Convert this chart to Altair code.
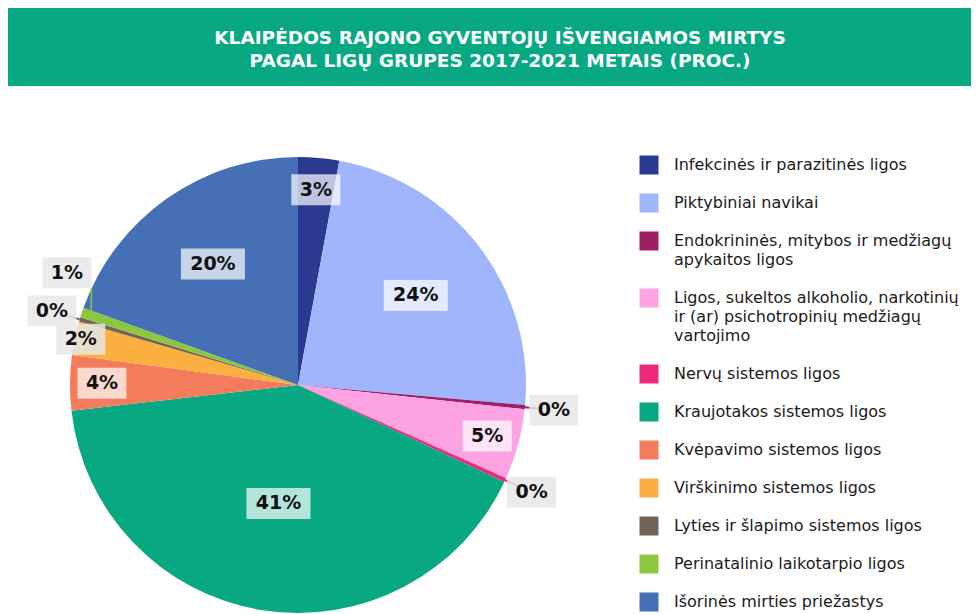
import altair as alt
import pandas as pd

categories = [
    "Infekcinės ir parazitinės ligos",
    "Piktybiniai navikai",
    "Endokrininės, mitybos ir medžiagų apykaitos ligos",
    "Ligos, sukeltos alkoholio, narkotinių ir (ar) psichotropinių medžiagų vartojimo",
    "Nervų sistemos ligos",
    "Kraujotakos sistemos ligos",
    "Kvėpavimo sistemos ligos",
    "Virškinimo sistemos ligos",
    "Lyties ir šlapimo sistemos ligos",
    "Perinatalinio laikotarpio ligos",
    "Išorinės mirties priežastys",
]
legend_labels = [
    "Infekcinės ir parazitinės ligos",
    "Piktybiniai navikai",
    "Endokrininės, mitybos ir medžiagų\napykaitos ligos",
    "Ligos, sukeltos alkoholio, narkotinių\nir (ar) psichotropinių medžiagų\nvartojimo",
    "Nervų sistemos ligos",
    "Kraujotakos sistemos ligos",
    "Kvėpavimo sistemos ligos",
    "Virškinimo sistemos ligos",
    "Lyties ir šlapimo sistemos ligos",
    "Perinatalinio laikotarpio ligos",
    "Išorinės mirties priežastys",
]
values = [2.9, 23.5, 0.3, 5.0, 0.3, 41.2, 3.9, 2.4, 0.3, 0.7, 19.5]
colors = ["#2b3990", "#a1b5fc", "#9e1f63", "#fda2e2", "#ec297b", "#07a882",
          "#f47b5c", "#fbb040", "#736357", "#8dc63f", "#4670b6"]
title_text = "KLAIPĖDOS RAJONO GYVENTOJŲ IŠVENGIAMOS MIRTYS\nPAGAL LIGŲ GRUPES 2017-2021 METAIS (PROC.)"

PIE_W, PIE_H, R = 580, 456, 228
BANNER_W, BANNER_H = 963, 78
LEG_W = 341

df = pd.DataFrame({"cat": categories, "label": legend_labels, "value": values,
                   "order": list(range(len(categories)))})
cscale = alt.Scale(domain=categories, range=colors)

# ---------- banner ----------
banner_df = pd.DataFrame({"t": [title_text]})
banner_rect = alt.Chart(banner_df).mark_rect(color="#07a882").encode(
    x=alt.value(0), x2=alt.value(BANNER_W), y=alt.value(0), y2=alt.value(BANNER_H)
)
banner_text = alt.Chart(banner_df).mark_text(
    font="DejaVu Sans", fontWeight="bold", fontSize=18.5, color="white",
    lineBreak="\n", lineHeight=23, align="center", baseline="middle",
).encode(x=alt.value(492), y=alt.value(29.5), text="t:N")
banner = alt.layer(banner_rect, banner_text).properties(width=BANNER_W, height=BANNER_H)

# ---------- pie ----------
arcs = alt.Chart(df).mark_arc(outerRadius=R).encode(
    theta=alt.Theta("value:Q", stack=True),
    color=alt.Color("cat:N", scale=cscale, legend=None),
    order=alt.Order("order:Q"),
)

lab = (
    alt.Chart(df)
    .transform_joinaggregate(total="sum(value)")
    .transform_window(cum="sum(value)", sort=[alt.SortField("order")], frame=[None, 0])
    .transform_calculate(mid="(datum.cum - datum.value/2)/datum.total*2*PI")
    .transform_window(
        window=[alt.WindowFieldDef(op="lag", field="mid", param=1, **{"as": "pmid"}),
                alt.WindowFieldDef(op="lag", field="value", param=1, **{"as": "pval"})],
        sort=[alt.SortField("order")],
    )
    .transform_calculate(
        adj="(datum.value < 1 && datum.pval != null && datum.pval < 1 && datum.mid - datum.pmid < 0.14) ? datum.pmid + 0.16 : datum.mid",
        lr="datum.value < 1 ? 257 : (datum.value < 2.5 ? 222 : (datum.value < 10 ? 196 : (datum.value < 30 ? 148 : 120)))",
        pct="format(round(datum.value), 'd') + '%'",
        outside="datum.value < 2.5",
        elbow="datum.value < 1 && datum.adj != datum.mid",
    )
    .transform_calculate(
        lx=f"{PIE_W/2} + datum.lr*sin(datum.adj)",
        ly=f"{PIE_H/2} - datum.lr*cos(datum.adj)",
        bw="length(datum.pct)*15 + 19",
        ex0=f"{PIE_W/2} + {R}*sin(datum.mid)",
        ey0=f"{PIE_H/2} - {R}*cos(datum.mid)",
        ex1=f"{PIE_W/2} + {R + 13}*sin(datum.adj)",
        ey1=f"{PIE_H/2} - {R + 13}*cos(datum.adj)",
    )
    .transform_calculate(
        bx0="datum.lx - datum.bw/2", bx1="datum.lx + datum.bw/2",
        by0="datum.ly - 15.5", by1="datum.ly + 15.5",
    )
)

# straight leaders for small outside labels
leaders = lab.transform_filter("datum.value < 1 && !datum.elbow").mark_rule(strokeWidth=2).encode(
    x=alt.X("ex0:Q", scale=None, axis=None), y=alt.Y("ey0:Q", scale=None, axis=None),
    x2="ex1:Q", y2="ey1:Q",
    color=alt.Color("cat:N", scale=cscale, legend=None),
)
# elbow leader (vertical part from box bottom, then across to the slice edge)
elbow_v = lab.transform_filter("datum.elbow").mark_rule(strokeWidth=1.5).encode(
    x=alt.X("bx1:Q", scale=None, axis=None), y=alt.Y("by1:Q", scale=None, axis=None),
    y2="ey0:Q",
    color=alt.Color("cat:N", scale=cscale, legend=None),
)
elbow_h = lab.transform_filter("datum.elbow").mark_rule(strokeWidth=1.5).encode(
    x=alt.X("bx1:Q", scale=None, axis=None), x2="ex0:Q",
    y=alt.Y("ey0:Q", scale=None, axis=None),
    color=alt.Color("cat:N", scale=cscale, legend=None),
)
boxes_in = lab.transform_filter("!datum.outside").mark_rect(color="white", opacity=0.7).encode(
    x=alt.X("bx0:Q", scale=None, axis=None), x2="bx1:Q",
    y=alt.Y("by0:Q", scale=None, axis=None), y2="by1:Q",
)
boxes_out = lab.transform_filter("datum.outside").mark_rect(color="#e6e8e7", opacity=0.85).encode(
    x=alt.X("bx0:Q", scale=None, axis=None), x2="bx1:Q",
    y=alt.Y("by0:Q", scale=None, axis=None), y2="by1:Q",
)
texts = lab.mark_text(font="DejaVu Sans", fontWeight="bold", fontSize=19, color="#111111",
                      align="center", baseline="middle").encode(
    x=alt.X("lx:Q", scale=None, axis=None), y=alt.Y("ly:Q", scale=None, axis=None),
    text="pct:N",
)
pie = alt.layer(arcs, leaders, elbow_v, elbow_h, boxes_in, boxes_out, texts).properties(
    width=PIE_W, height=PIE_H)

# ---------- legend ----------
leg = (
    alt.Chart(df)
    .transform_calculate(nl="length(split(datum.label, '\\n'))")
    .transform_window(cl="sum(nl)", sort=[alt.SortField("order")], frame=[None, 0])
    .transform_calculate(k="datum.cl - datum.nl + datum.order")
)
yscale = alt.Scale(domain=[0, 23], range=[8, 8 + 19 * 23])
leg_sq = leg.mark_square(size=361, opacity=1).encode(
    x=alt.value(19),
    y=alt.Y("k:Q", scale=yscale, axis=None),
    color=alt.Color("cat:N", scale=cscale, legend=None),
)
leg_tx = leg.mark_text(font="DejaVu Sans", fontSize=16, color="#1a1a1a", align="left",
                       baseline="line-top", dy=-9.5, lineBreak="\n", lineHeight=19).encode(
    x=alt.value(44),
    y=alt.Y("k:Q", scale=yscale, axis=None),
    text="label:N",
)
legend = alt.layer(leg_sq, leg_tx).properties(width=LEG_W, height=PIE_H)

row = alt.hconcat(pie, legend, spacing=42)
chart = alt.vconcat(banner, row, spacing=69).properties(padding=0).configure_view(stroke=None)

chart.save("out.html", embed_options={"renderer": "svg", "actions": False})
